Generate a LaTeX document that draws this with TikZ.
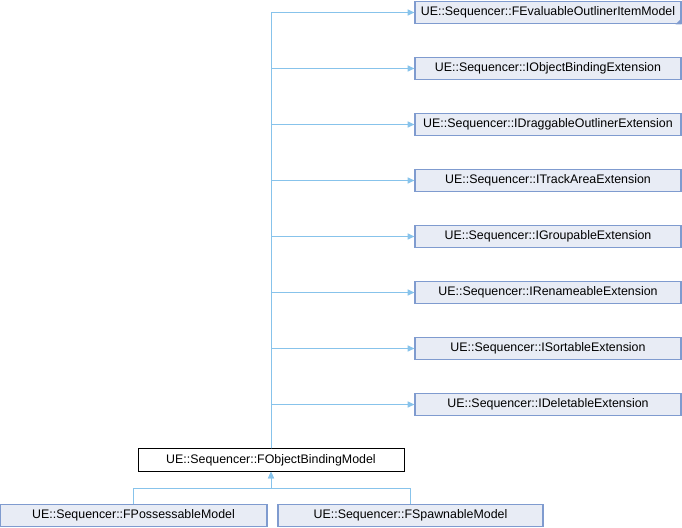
\documentclass[tikz,border=0pt]{standalone}
\usepackage{fontspec}
\setmainfont{Liberation Sans}
\usetikzlibrary{arrows.meta}

\definecolor{edgeblue}{RGB}{135,195,235}
\definecolor{boxfill}{RGB}{232,236,245}
\definecolor{boxline}{RGB}{127,155,207}

\tikzset{
  cls/.style={draw=boxline, fill=boxfill, line width=0.9pt, inner sep=0pt,
    minimum width=266*0.75pt, minimum height=22.5*0.75pt,
    font=\fontsize{9.3}{11}\selectfont},
  focus/.style={cls, draw=black, fill=white, line width=0.75pt},
  inherit/.style={draw=edgeblue, line width=0.75pt,
    -{Triangle[length=5pt, width=4.5pt, fill=edgeblue]}}
}

\begin{document}
\begin{tikzpicture}[x=0.75pt,y=0.75pt,yscale=-1,xscale=1]
\useasboundingbox (0,0) rectangle (682,528);

%Base classes
\node [cls] (evaluable) at (548,12.5) {UE::Sequencer::FEvaluableOutlinerItemModel};
\node [cls] (objbind) at (548,68.5) {UE::Sequencer::IObjectBindingExtension};
\node [cls] (draggable) at (548,124.5) {UE::Sequencer::IDraggableOutlinerExtension};
\node [cls] (trackarea) at (548,180.5) {UE::Sequencer::ITrackAreaExtension};
\node [cls] (groupable) at (548,236.5) {UE::Sequencer::IGroupableExtension};
\node [cls] (renameable) at (548,292.5) {UE::Sequencer::IRenameableExtension};
\node [cls] (sortable) at (548,348.5) {UE::Sequencer::ISortableExtension};
\node [cls] (deletable) at (548,404.5) {UE::Sequencer::IDeletableExtension};

%truncated marker
\fill [boxline] (evaluable.south east) -- ++(-6,0) -- ++(6,-6) -- cycle;

%Current class
\node [focus] (model) at (271,460) {UE::Sequencer::FObjectBindingModel};

%Derived classes
\node [cls, minimum width=267*0.75pt] (possess) at (133.5,515.5) {UE::Sequencer::FPossessableModel};
\node [cls, minimum width=265*0.75pt] (spawn) at (410.5,515.5) {UE::Sequencer::FSpawnableModel};

%Inheritance edges
\foreach \base in {evaluable,objbind,draggable,trackarea,groupable,renameable,sortable,deletable}
  \draw [inherit] (model.north) |- (\base.west);

\coordinate (split) at (271,488);
\draw [inherit] (possess.north) |- (split) -- (model.south);
\draw [inherit] (spawn.north) |- (split) -- (model.south);
\end{tikzpicture}
\end{document}
